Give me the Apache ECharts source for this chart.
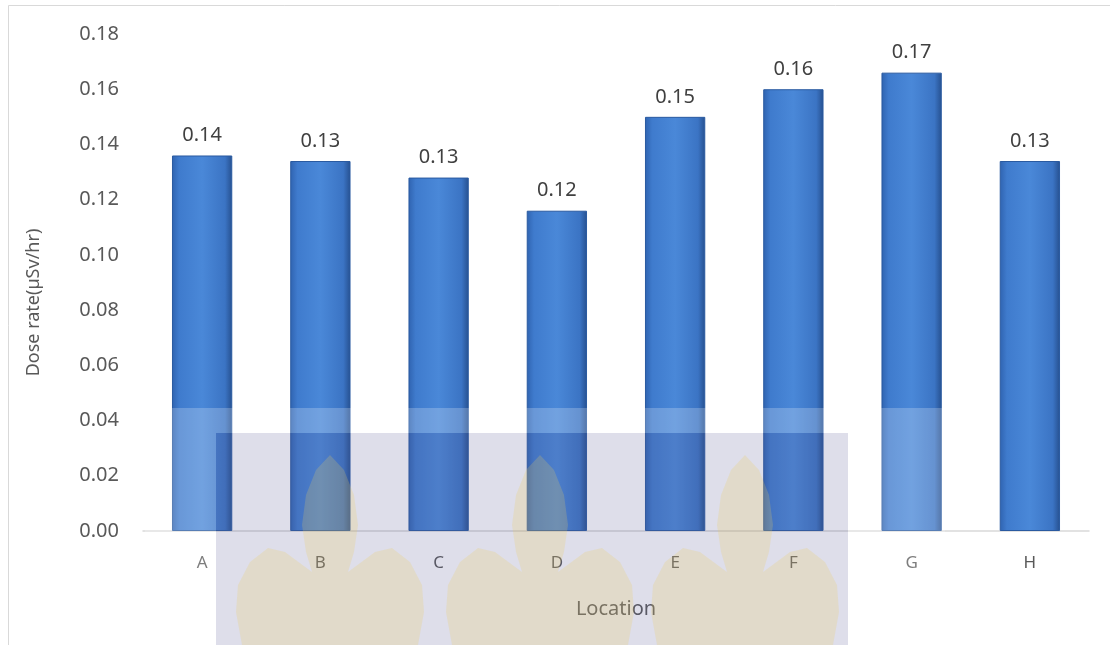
<!DOCTYPE html>
<html>
<head>
<meta charset="utf-8">
<script src="https://cdn.jsdelivr.net/npm/echarts@6/dist/echarts.min.js"></script>
<style>
  html, body { margin: 0; padding: 0; background: #fff; }
</style>
</head>
<body>
<div id="main" style="width: 1110px; height: 645px"></div>
<script>
var locations = ["A", "B", "C", "D", "E", "F", "G", "H"];
var doseRate = [0.136, 0.134, 0.128, 0.116, 0.150, 0.160, 0.166, 0.134];
var yTicks = { min: 0, max: 0.18, interval: 0.02 };

var chartDom = document.getElementById("main");
var myChart = echarts.init(chartDom);
var font = "Noto Sans";

var barColor = new echarts.graphic.LinearGradient(0, 0, 1, 0, [
  { offset: 0, color: "#2f63b0" },
  { offset: 0.12, color: "#3f7bcd" },
  { offset: 0.5, color: "#4a88d8" },
  { offset: 0.88, color: "#3b74c4" },
  { offset: 1, color: "#26508f" },
]);

// faint watermark leaf, one polygon so nothing overlaps
var leafOutline = [
  [0, 455], [14, 470], [24, 495], [28, 525], [24, 552], [18, 572],
  [45, 552], [62, 548], [80, 562], [92, 585], [94, 612], [88, 645],
  [-88, 645], [-94, 612], [-92, 585], [-80, 562], [-62, 548], [-45, 552],
  [-18, 572], [-24, 552], [-28, 525], [-24, 495], [-14, 470],
];
function leaf(cx) {
  return {
    type: "polygon",
    z: 101,
    silent: true,
    shape: { points: leafOutline.map(function (pt) { return [cx + pt[0], pt[1]]; }) },
    style: { fill: "#ebcd5a", opacity: 0.22 },
  };
}

var option = {
  animation: false,
  backgroundColor: "#fff",
  grid: { left: 143, right: 21, top: 34, bottom: 114 },
  xAxis: {
    type: "category",
    data: locations,
    name: "Location",
    nameLocation: "middle",
    nameGap: 68,
    nameTextStyle: { color: "#595959", fontSize: 20, fontFamily: font },
    axisLine: { show: true, lineStyle: { color: "#d9d9d9", width: 1.5 } },
    axisTick: { show: false },
    axisLabel: { color: "#595959", fontSize: 17, fontFamily: font, margin: 24 },
  },
  yAxis: {
    type: "value",
    min: yTicks.min,
    max: yTicks.max,
    interval: yTicks.interval,
    name: "Dose rate(µSv/hr)",
    nameLocation: "middle",
    nameGap: 100,
    nameTextStyle: { color: "#595959", fontSize: 18, fontFamily: font, padding: [0, 40, 0, 0] },
    splitLine: { show: false },
    axisLine: { show: false },
    axisTick: { show: false },
    axisLabel: {
      color: "#595959",
      fontSize: 20,
      fontFamily: font,
      margin: 24,
      formatter: function (v) { return v.toFixed(2); },
    },
  },
  series: [
    {
      type: "bar",
      data: doseRate,
      barWidth: "51%",
      itemStyle: { color: barColor, borderColor: "#2a5aa0", borderWidth: 1 },
      label: {
        show: true,
        position: "top",
        distance: 10,
        color: "#404040",
        fontSize: 20,
        fontFamily: font,
        formatter: function (p) { return p.value.toFixed(2); },
      },
    },
  ],
  graphic: [
    {
      type: "rect",
      z: 0,
      silent: true,
      shape: { x: 8.5, y: 5.5, width: 1120, height: 660 },
      style: { fill: "none", stroke: "#d9d9d9", lineWidth: 1 },
    },
    // watermark: light band
    {
      type: "rect",
      z: 100,
      silent: true,
      shape: { x: 145, y: 408, width: 800, height: 25 },
      style: { fill: "rgba(255,255,255,0.22)" },
    },
    {
      type: "rect",
      z: 100,
      silent: true,
      shape: { x: 145, y: 433, width: 71, height: 212 },
      style: { fill: "rgba(255,255,255,0.22)" },
    },
    {
      type: "rect",
      z: 100,
      silent: true,
      shape: { x: 848, y: 433, width: 97, height: 212 },
      style: { fill: "rgba(255,255,255,0.22)" },
    },
    // watermark: lavender block
    {
      type: "rect",
      z: 100,
      silent: true,
      shape: { x: 216, y: 433, width: 632, height: 212 },
      style: { fill: "rgba(90,90,150,0.2)" },
    },
    leaf(330),
    leaf(540),
    leaf(745),
  ],
};

myChart.setOption(option);
</script>
</body>
</html>
